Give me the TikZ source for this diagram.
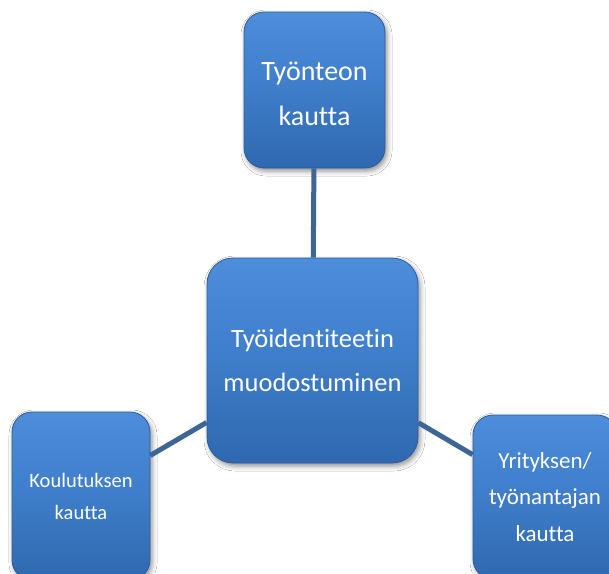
\documentclass[tikz,border=0pt]{standalone}
\usepackage{fontspec}
\setmainfont[Ligatures=NoCommon]{Carlito}
\usetikzlibrary{shadows.blur}
\definecolor{boxtop}{HTML}{4D8DD9}
\definecolor{boxmid}{HTML}{3E7DC9}
\definecolor{boxbot}{HTML}{2F68AF}
\definecolor{boxedge}{HTML}{2A5C9C}
\definecolor{linkcol}{HTML}{3D6596}
\tikzset{
  bluebox/.style={rectangle, rounded corners=20pt, draw=boxedge, line width=0.8pt,
    top color=boxtop, bottom color=boxbot, middle color=boxmid,
    text=white, align=center, inner sep=0pt,
    blur shadow={shadow xshift=2pt, shadow yshift=-3pt, shadow blur radius=5pt, shadow opacity=45}},
  boxtext/.style={text=white, align=center, inner sep=0pt},
  link/.style={draw=linkcol, line width=5pt}
}
\begin{document}
\begin{tikzpicture}[x=1pt,y=-1pt]
\useasboundingbox (0,0) rectangle (609,573);
\fill[white] (0,0) rectangle (609,573);
\node[bluebox, minimum width=141pt, minimum height=156pt] (t) at (314.5,90) {};
\node[boxtext, font=\fontsize{28}{45}\selectfont] (tt) at (314.5,94) {Työnteon\\kautta};
\node[bluebox, rounded corners=26pt, minimum width=211pt, minimum height=205pt,
  font=\fontsize{26.5}{44}\selectfont] (c) at (312.5,360.5) {Työidentiteetin\\muodostuminen};
\node[bluebox, minimum width=138pt, minimum height=168pt,
  font=\fontsize{20.5}{32}\selectfont] (l) at (81,496) {Koulutuksen\\kautta};
\node[bluebox, minimum width=144pt, minimum height=164pt,
  font=\fontsize{23}{36.5}\selectfont] (r) at (545,497) {Yrityksen/\\työnantajan\\kautta};
\draw[link] (c) -- (t);
\draw[link] (c) -- (l);
\draw[link] (c) -- (r);
\end{tikzpicture}
\end{document}
